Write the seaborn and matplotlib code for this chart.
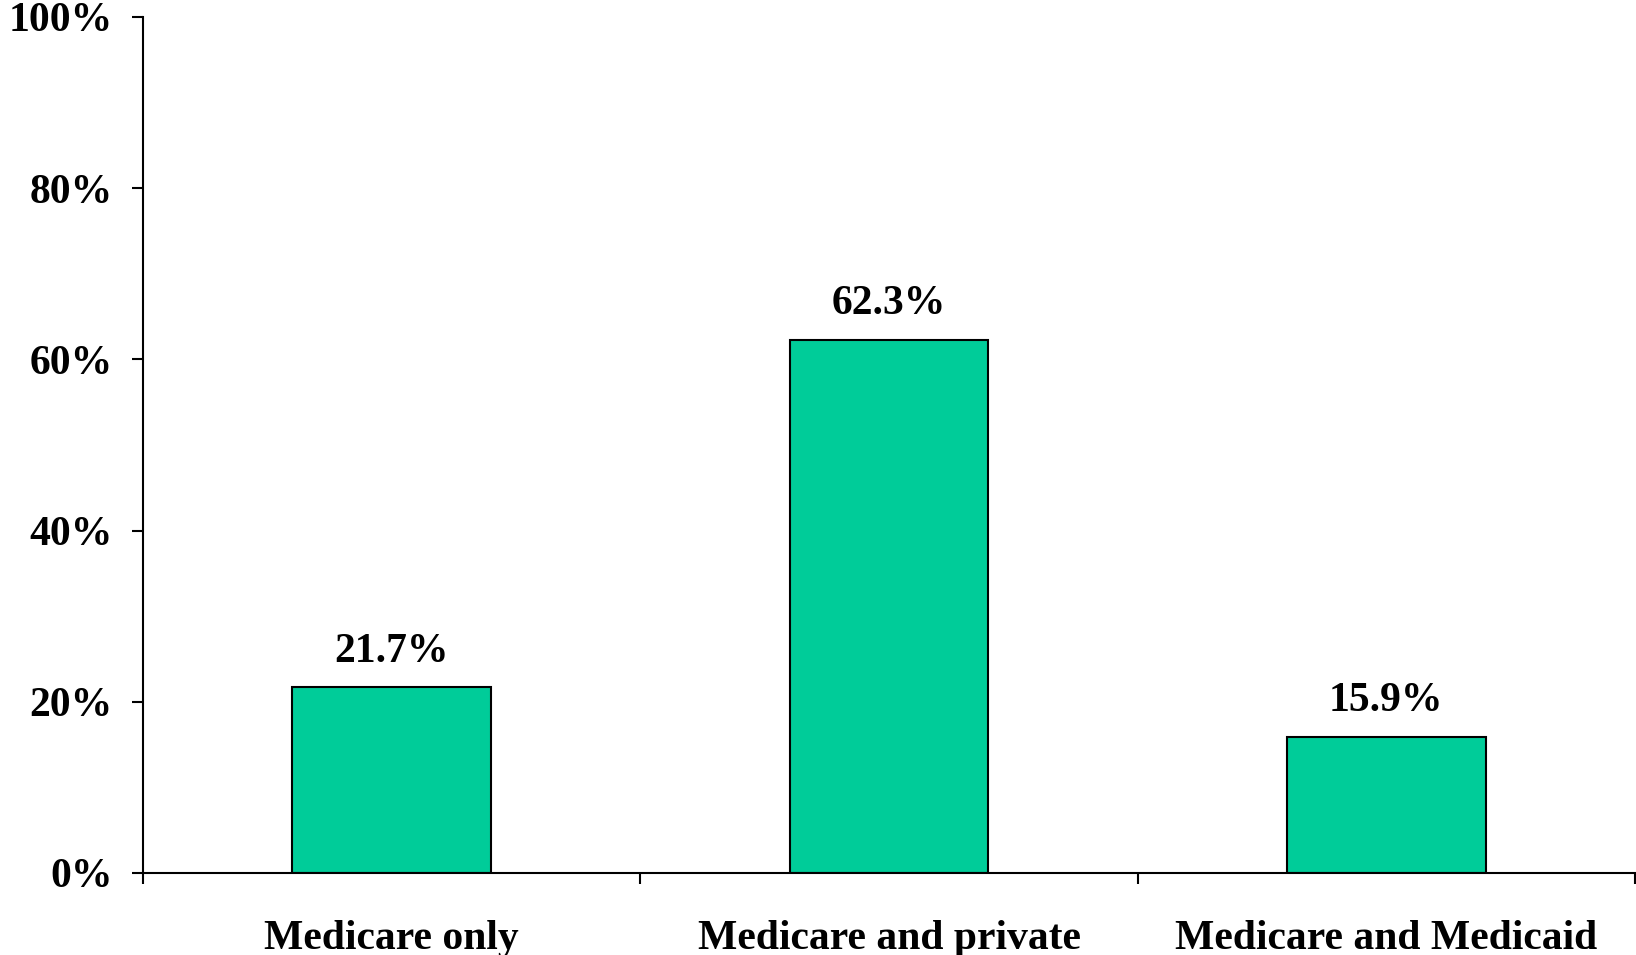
import pandas as pd
import seaborn as sns
import matplotlib.pyplot as plt

categories = ['Medicare only', 'Medicare and private', 'Medicare and Medicaid']
shares = [21.7, 62.3, 15.9]
value_labels = ['21.7%', '62.3%', '15.9%']
ytick_values = [0, 20, 40, 60, 80, 100]
ytick_labels = ['0%', '20%', '40%', '60%', '80%', '100%']

df = pd.DataFrame({'coverage': categories, 'share': shares})

sns.set_style('ticks')
plt.rcParams['font.family'] = ['Liberation Serif', 'DejaVu Serif']
plt.rcParams['font.weight'] = 'bold'
plt.rcParams['text.color'] = 'black'
plt.rcParams['xtick.color'] = 'black'
plt.rcParams['ytick.color'] = 'black'

fig = plt.figure(figsize=(16.36, 9.55), dpi=100)
ax = fig.add_axes([0.0874, 0.0859, 0.9120, 0.8963])

sns.barplot(data=df, x='coverage', y='share', color='#00CC99', width=0.40,
            edgecolor='black', linewidth=1.5, saturation=1, ax=ax)

for i, (v, lab) in enumerate(zip(shares, value_labels)):
    ax.annotate(lab, (i, v), xytext=(0, 12), textcoords='offset points',
                ha='center', va='bottom', fontsize=30, fontweight='bold',
                color='black')

ax.set_ylim(0, 100)
ax.set_xlim(-0.5, 2.5)
ax.set_yticks(ytick_values)
ax.set_yticklabels(ytick_labels, fontsize=30, fontweight='bold')
ax.set_xticks(range(len(categories)))
ax.set_xticklabels(categories, fontsize=30, fontweight='bold')
ax.set_xticks([-0.5, 0.5, 1.5, 2.5], minor=True)
ax.tick_params(axis='x', which='major', length=0, pad=34, labelcolor='black')
ax.tick_params(axis='x', which='minor', length=8, width=1.5, direction='out')
ax.tick_params(axis='y', length=8, width=1.5, direction='out', pad=14,
               labelcolor='black')
ax.set_xlabel('')
ax.set_ylabel('')

for side in ['top', 'right']:
    ax.spines[side].set_visible(False)
for side in ['left', 'bottom']:
    ax.spines[side].set_linewidth(1.5)
    ax.spines[side].set_color('black')

fig.savefig('out.png', dpi=100)
